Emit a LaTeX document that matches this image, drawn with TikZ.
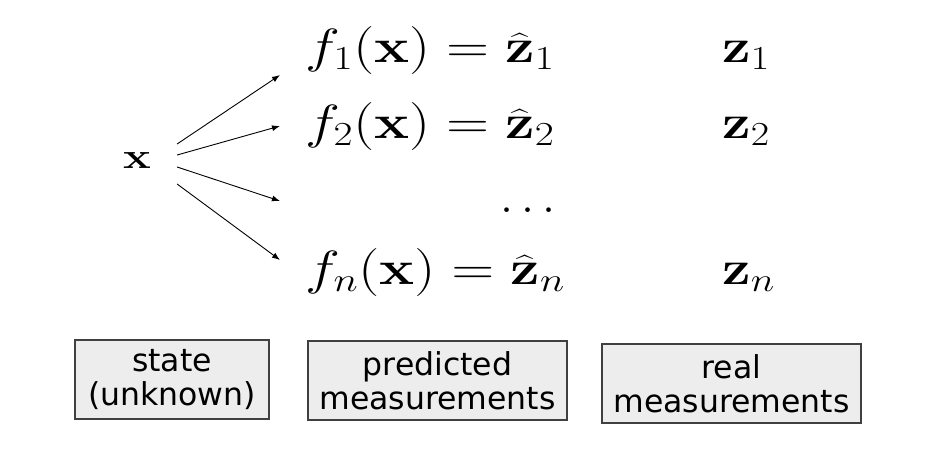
\RequirePackage{fix-cm}
\documentclass[tikz,border=0pt]{standalone}
\usepackage{amsmath}
\usepackage[no-math]{fontspec}
\setsansfont{DejaVu Sans}
\usetikzlibrary{arrows.meta}
\newcommand{\stretched}[2][1.19]{\scalebox{#1}[1]{#2}}
\tikzset{
  labelbox/.style={draw=black!75, line width=1.2pt, fill=black!7, inner sep=0pt,
    minimum height=79pt, align=center,
    font=\sffamily\fontsize{31.5}{34}\selectfont},
  eqn/.style={inner sep=0pt, font=\fontsize{48}{56}\selectfont},
  fan/.style={line width=0.9pt, -{Latex[length=8pt,width=6pt]}}
}
\begin{document}
\begin{tikzpicture}[x=1pt, y=-1pt]
   \useasboundingbox (0,0) rectangle (944,464);

   % state
   \node[inner sep=0pt, font=\fontsize{36}{40}\selectfont] (X) at (137,160)
      {\stretched[1.3]{$\mathbf{x}$}};

   % predicted measurements
   \node[eqn, anchor=base west] (P1) at (305,62)  {\stretched[1.23]{$f_1(\mathbf{x}) = \widehat{\mathbf{z}}_1$}};
   \node[eqn, anchor=base west] (P2) at (305,138) {\stretched[1.23]{$f_2(\mathbf{x}) = \widehat{\mathbf{z}}_2$}};
   \node[eqn, anchor=base east] (PD) at (556,212) {$\ldots$};
   \node[eqn, anchor=base west] (PN) at (305,284) {\stretched[1.23]{$f_n(\mathbf{x}) = \widehat{\mathbf{z}}_n$}};

   % real measurements
   \node[eqn, anchor=base west] (Z1) at (722,62)  {\stretched{$\mathbf{z}_1$}};
   \node[eqn, anchor=base west] (Z2) at (722,138) {\stretched{$\mathbf{z}_2$}};
   \node[eqn, anchor=base west] (ZN) at (722,284) {\stretched{$\mathbf{z}_n$}};

   % arrow ends
   \coordinate (T1) at (280,75);
   \coordinate (T2) at (280,126);
   \coordinate (T3) at (280,201);
   \coordinate (T4) at (280,260);

   \draw[fan] ([xshift=26pt, yshift=16pt]X.east) to (T1);
   \draw[fan] ([xshift=26pt, yshift=5pt]X.east)  to (T2);
   \draw[fan] ([xshift=26pt, yshift=-7pt]X.east) to (T3);
   \draw[fan] ([xshift=26pt, yshift=-24pt]X.east) to (T4);

   % legend boxes
   \node[labelbox, minimum width=194pt] (B1) at (172,379.5) {state\\(unknown)};
   \node[labelbox, minimum width=259pt] (B2) at (437.5,380.5) {predicted\\measurements};
   \node[labelbox, minimum width=259pt] (B3) at (731.5,383.5) {real\\measurements};
 \end{tikzpicture}
\end{document}
